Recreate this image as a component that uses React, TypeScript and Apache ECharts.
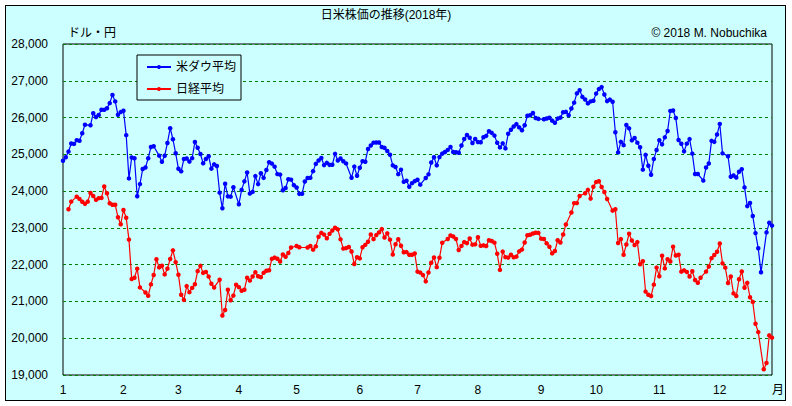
import React, { useEffect, useRef } from "react";
import * as echarts from "echarts";

// Market holidays (weekdays with no trading) in 2018, MM-DD
const usHolidays = ["01-01", "01-15", "02-19", "03-30", "05-28", "07-04", "09-03", "11-22", "12-05", "12-25"];
const jpHolidays = ["01-01", "01-02", "01-03", "01-08", "02-12", "03-21", "04-30", "05-03", "05-04", "07-16", "09-17", "09-24", "10-08", "11-23", "12-24"];

// Dow Jones Industrial Average, closes per month (US trading days)
const dowJan = [24824, 24922, 25075, 25295, 25283, 25385, 25369, 25574, 25803, 25792, 26116, 26017, 26071, 26214, 26210, 26252, 26392, 26616, 26439, 26076, 26149];
const dowFeb = [26186, 25521, 24346, 24912, 24893, 23860, 24191, 24601, 24640, 24893, 25200, 25219, 24964, 24798, 24963, 25310, 25710, 25410, 25029];
const dowMar = [24609, 24538, 24874, 24885, 24802, 24896, 25336, 25179, 25008, 24759, 24874, 24947, 24611, 24727, 24683, 23958, 23533, 24202, 23857, 23849, 24103];
const dowApr = [23644, 24033, 24265, 24505, 23933, 23979, 24408, 24190, 24484, 24360, 24573, 24787, 24748, 24665, 24463, 24449, 24025, 24084, 24323, 24311, 24163];
const dowMay = [24100, 23925, 23930, 24263, 24357, 24361, 24543, 24740, 24831, 24900, 24707, 24769, 24714, 24715, 25013, 24834, 24887, 24811, 24753, 24362, 24667, 24416];
const dowJun = [24635, 24814, 24799, 25146, 25241, 25317, 25322, 25320, 25201, 25175, 25090, 24987, 24700, 24657, 24461, 24580, 24252, 24283, 24117, 24216, 24271];
const dowJul = [24307, 24175, 24357, 24456, 24776, 24920, 24700, 24925, 25019, 25064, 25120, 25199, 25065, 25058, 25044, 25241, 25415, 25527, 25451, 25307, 25415];
const dowAug = [25333, 25327, 25463, 25502, 25629, 25584, 25509, 25313, 25188, 25299, 25162, 25558, 25669, 25758, 25822, 25733, 25656, 25790, 26049, 26064, 26124, 25986, 25964];
const dowSep = [25952, 25974, 25995, 25916, 25857, 25971, 25998, 26145, 26154, 26062, 26246, 26405, 26657, 26743, 26562, 26492, 26385, 26439, 26458];
const dowOct = [26651, 26774, 26828, 26627, 26447, 26487, 26431, 25599, 25053, 25340, 25250, 25798, 25706, 25380, 25444, 25317, 25191, 24583, 24985, 24689, 24443, 24875, 25116];
const dowNov = [25381, 25271, 25462, 25636, 26181, 26191, 25989, 25388, 25287, 25081, 25290, 25414, 25018, 24466, 24465, 24286, 24640, 24749, 25367, 25339, 25538];
const dowDec = [25827, 25027, 24947, 24389, 24423, 24370, 24527, 24597, 24101, 23592, 23676, 23324, 22859, 22445, 21792, 22878, 23138, 23062];

// Nikkei 225, closes per month (Japanese trading days)
const nkJan = [23506, 23715, 23849, 23788, 23710, 23653, 23714, 23951, 23868, 23763, 23808, 23816, 24124, 23940, 23669, 23631, 23629, 23291, 23098];
const nkFeb = [23486, 23274, 22682, 21610, 21645, 21891, 21382, 21245, 21154, 21464, 21720, 22149, 21925, 21970, 21736, 21892, 22153, 22389, 22068];
const nkMar = [21724, 21181, 21042, 21417, 21252, 21368, 21469, 21824, 21968, 21777, 21803, 21676, 21480, 21380, 21591, 20617, 20766, 21317, 21031, 21159, 21454];
const nkApr = [21388, 21292, 21319, 21645, 21567, 21678, 21794, 21687, 21660, 21778, 21835, 21847, 22158, 22191, 22162, 22088, 22278, 22215, 22319, 22467];
const nkMay = [22508, 22472, 22467, 22509, 22408, 22497, 22758, 22865, 22818, 22717, 22838, 22930, 23002, 22960, 22689, 22437, 22450, 22481, 22358, 22018, 22201];
const nkJun = [22171, 22475, 22539, 22625, 22823, 22694, 22804, 22878, 22966, 22738, 22851, 22680, 22278, 22555, 22693, 22516, 22338, 22342, 22271, 22270, 22304];
const nkJul = [21811, 21785, 21717, 21546, 21788, 22052, 22196, 21932, 22187, 22597, 22697, 22794, 22764, 22697, 22397, 22510, 22614, 22586, 22712, 22544, 22553];
const nkAug = [22746, 22512, 22525, 22507, 22662, 22644, 22598, 22298, 21857, 22356, 22204, 22192, 22270, 22199, 22219, 22362, 22410, 22601, 22799, 22813, 22848, 22869, 22865];
const nkSep = [22707, 22696, 22580, 22487, 22307, 22373, 22664, 22604, 22821, 23094, 23420, 23672, 23674, 23869, 23940, 24033, 23796, 24120];
const nkOct = [24245, 24270, 24110, 23975, 23784, 23469, 23506, 22590, 22694, 22271, 22549, 22841, 22658, 22532, 22614, 22010, 22091, 21268, 21184, 21149, 21457, 21920];
const nkNov = [21687, 22243, 21898, 22147, 22085, 22486, 22250, 22269, 21810, 21846, 21803, 21680, 21821, 21583, 21507, 21646, 21812, 21952, 22177, 22262, 22351];
const nkDec = [22574, 22036, 21919, 21502, 21679, 21219, 21148, 21603, 21816, 21374, 21506, 21115, 20988, 20393, 20166, 19155, 19327, 20077, 20015];

const yTicks = [19000, 20000, 21000, 22000, 23000, 24000, 25000, 26000, 27000, 28000];
const seriesNames = ["米ダウ平均", "日経平均"];
const titleText = "日米株価の推移(2018年)";
const unitText = "ドル・円";
const creditText = "© 2018 M. Nobuchika";
const xUnitText = "月";

const pad = (n: number) => String(n).padStart(2, "0");

function buildData() {
  const us: string[] = [];
  const jp: string[] = [];
  const all: string[] = [];
  for (let m = 0; m < 12; m++) {
    const dim = new Date(Date.UTC(2018, m + 1, 0)).getUTCDate();
    for (let d = 1; d <= dim; d++) {
      if (m === 11 && d > 28) break;
      const wd = new Date(Date.UTC(2018, m, d)).getUTCDay();
      if (wd === 0 || wd === 6) continue;
      const key = pad(m + 1) + "-" + pad(d);
      const u = !usHolidays.includes(key);
      const j = !jpHolidays.includes(key);
      if (u) us.push(key);
      if (j) jp.push(key);
      if (u || j) all.push(key);
    }
  }
  const dow = [dowJan, dowFeb, dowMar, dowApr, dowMay, dowJun, dowJul, dowAug, dowSep, dowOct, dowNov, dowDec].flat();
  const nk = [nkJan, nkFeb, nkMar, nkApr, nkMay, nkJun, nkJul, nkAug, nkSep, nkOct, nkNov, nkDec].flat();
  const dm = new Map<string, number>();
  us.forEach((k, i) => { if (i < dow.length) dm.set(k, dow[i]); });
  const nm = new Map<string, number>();
  jp.forEach((k, i) => { if (i < nk.length) nm.set(k, nk[i]); });
  const monthStart = new Set<number>();
  let prev = "";
  all.forEach((k, i) => {
    const mm = k.slice(0, 2);
    if (mm !== prev) { monthStart.add(i); prev = mm; }
  });
  return {
    cats: all,
    dowData: all.map((k) => (dm.has(k) ? dm.get(k)! : null)),
    nkData: all.map((k) => (nm.has(k) ? nm.get(k)! : null)),
    monthStart,
  };
}

const FONT = "'Liberation Sans', 'Noto Sans CJK JP', sans-serif";

export default function App() {
  const ref = useRef<HTMLDivElement>(null);
  useEffect(() => {
    if (!ref.current) return;
    const chart = echarts.init(ref.current, undefined, { renderer: "svg" });
    const { cats, dowData, nkData, monthStart } = buildData();
    chart.setOption({
      animation: false,
      backgroundColor: "transparent",
      textStyle: { fontFamily: FONT },
      grid: {
        left: 63, top: 44, right: 20, bottom: 31,
        show: true, backgroundColor: "#CCFFFF", borderColor: "#000", borderWidth: 1,
      },
      legend: {
        show: true,
        orient: "vertical",
        left: 137, top: 55,
        backgroundColor: "#CCFFFF",
        borderColor: "#000", borderWidth: 1,
        padding: [5, 5, 4, 9],
        itemGap: 8, itemWidth: 24, itemHeight: 5,
        textStyle: { fontSize: 12, color: "#000", fontFamily: FONT, lineHeight: 14 },
        data: seriesNames,
      },
      xAxis: {
        type: "category",
        data: cats,
        boundaryGap: false,
        axisLine: { show: false },
        axisTick: { show: false },
        splitLine: { show: false },
        axisLabel: {
          interval: (i: number) => monthStart.has(i),
          formatter: (v: string) => String(parseInt(v.slice(0, 2), 10)),
          color: "#000", fontSize: 12, margin: 9, fontFamily: FONT,
        },
      },
      yAxis: {
        type: "value",
        min: yTicks[0], max: yTicks[yTicks.length - 1], interval: 1000,
        axisLine: { show: false },
        axisTick: { show: false },
        axisLabel: {
          formatter: (v: number) => v.toLocaleString("en-US"),
          color: "#000", fontSize: 12, margin: 15, fontFamily: FONT,
        },
        splitLine: { lineStyle: { color: "#008000", type: [3, 3], width: 1 } },
      },
      series: [
        {
          name: seriesNames[0], type: "line", data: dowData, connectNulls: true,
          symbol: "circle", symbolSize: 4.5, showSymbol: true, showAllSymbol: true,
          itemStyle: { color: "#0000FF" }, lineStyle: { color: "#0000FF", width: 1.2 },
          emphasis: { disabled: true }, z: 3,
        },
        {
          name: seriesNames[1], type: "line", data: nkData, connectNulls: true,
          symbol: "circle", symbolSize: 4.5, showSymbol: true, showAllSymbol: true,
          itemStyle: { color: "#FF0000" }, lineStyle: { color: "#FF0000", width: 1.2 },
          emphasis: { disabled: true }, z: 2,
        },
      ],
      graphic: [
        { type: "text", x: 386, y: 15, style: { text: titleText, fill: "#000", font: `12px ${FONT}`, align: "center", verticalAlign: "middle" } },
        { type: "text", x: 68, y: 33, style: { text: unitText, fill: "#000", font: `12px ${FONT}`, align: "left", verticalAlign: "middle" } },
        { type: "text", x: 767, y: 33, style: { text: creditText, fill: "#000", font: `12px ${FONT}`, align: "right", verticalAlign: "middle" } },
        { type: "text", x: 778, y: 390, style: { text: xUnitText, fill: "#000", font: `12px ${FONT}`, align: "center", verticalAlign: "middle" } },
      ],
    });
    return () => chart.dispose();
  }, []);
  return (
    <div style={{ position: "fixed", left: 0, top: 0, width: 792, height: 406, background: "#fff" }}>
      <div style={{ position: "absolute", left: 5, top: 5, width: 779, height: 394, background: "#CCFFFF", border: "1px solid #000" }} />
      <div ref={ref} style={{ position: "absolute", left: 0, top: 0, width: 792, height: 406 }} />
    </div>
  );
}
